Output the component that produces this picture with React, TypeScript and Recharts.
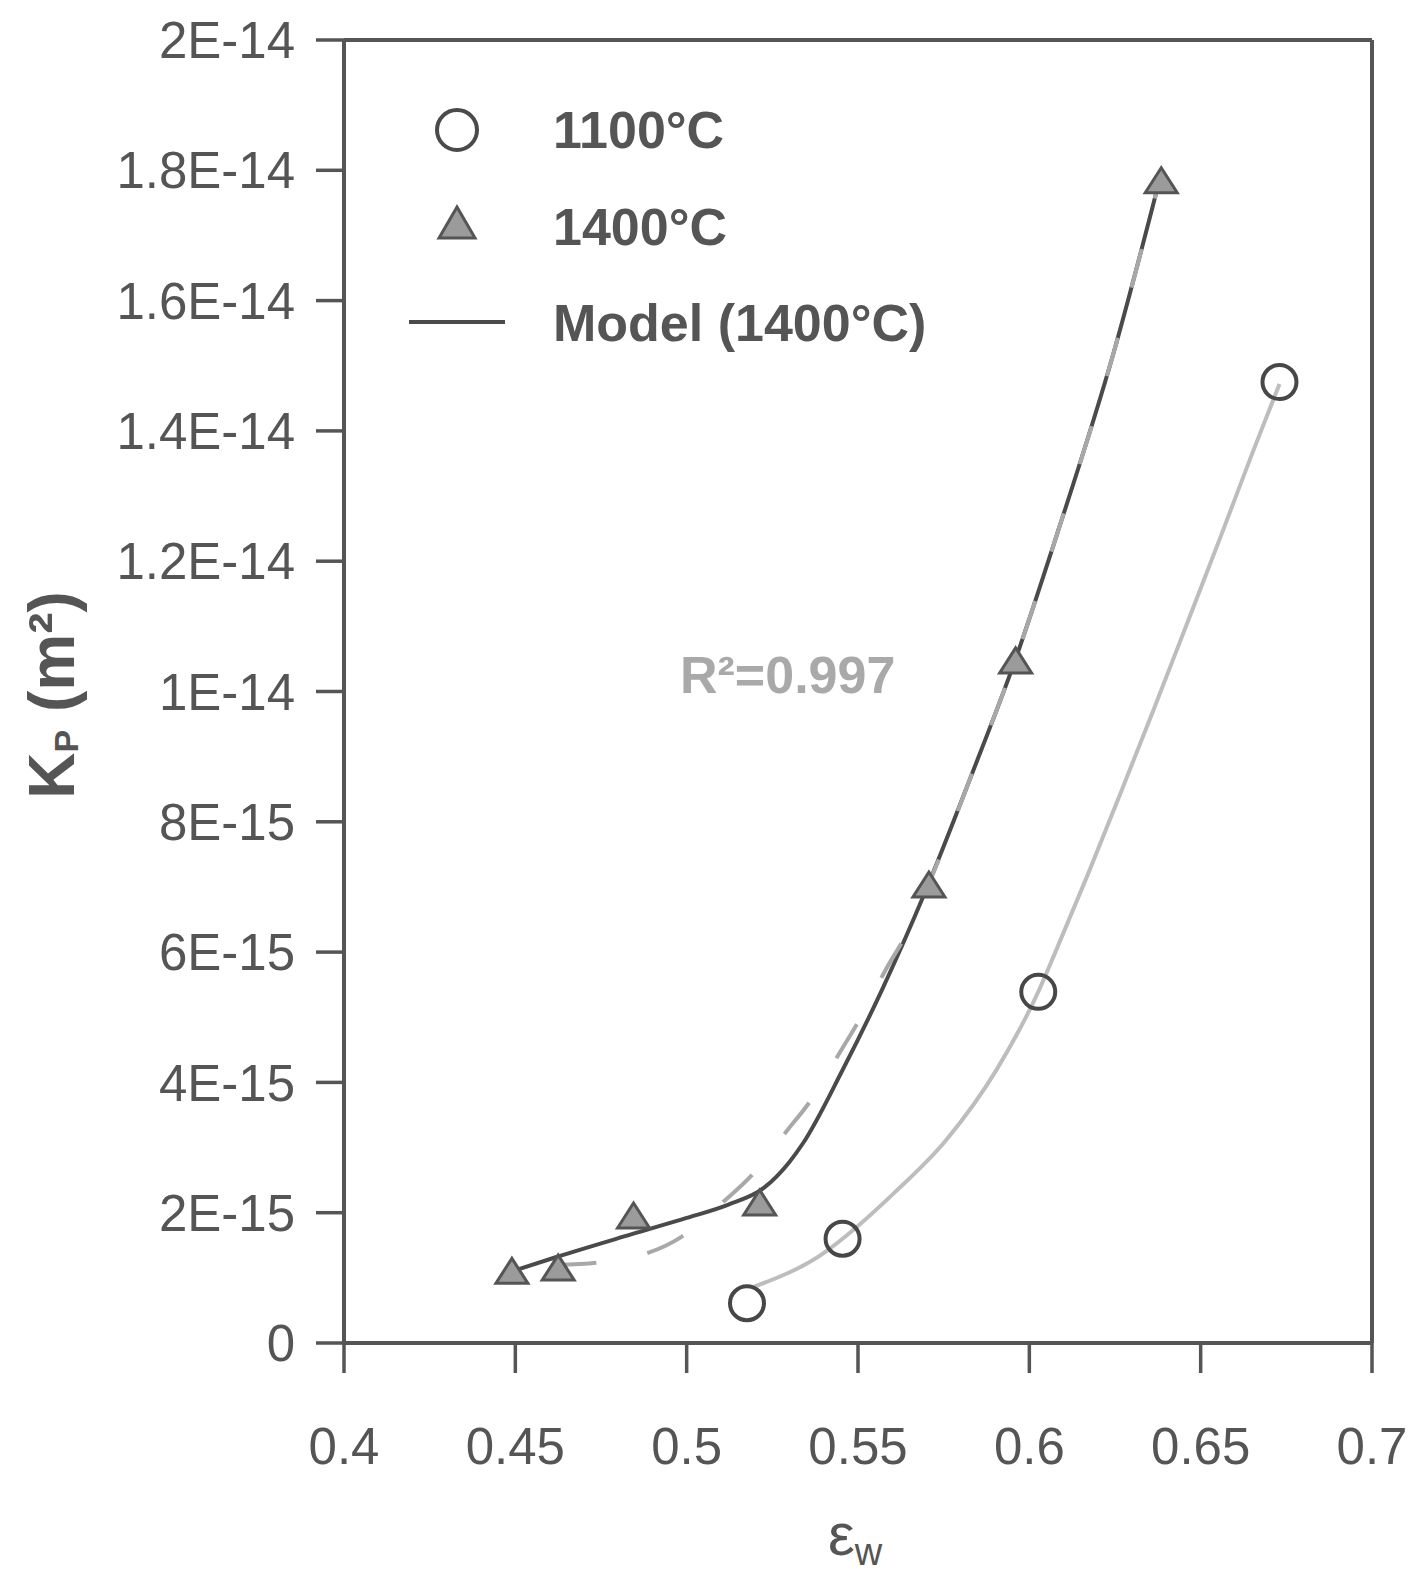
import React from 'react';
import { ComposedChart, XAxis, YAxis, Line, Scatter, ReferenceLine } from 'recharts';

// ---- axis ticks ----
const xTicks = [0.4, 0.45, 0.5, 0.55, 0.6, 0.65, 0.7];
const xTickLabels = ['0.4', '0.45', '0.5', '0.55', '0.6', '0.65', '0.7'];
const yTicks = [0, 2e-15, 4e-15, 6e-15, 8e-15, 1e-14, 1.2e-14, 1.4e-14, 1.6e-14, 1.8e-14, 2e-14];
const yTickLabels = ['0', '2E-15', '4E-15', '6E-15', '8E-15', '1E-14', '1.2E-14', '1.4E-14', '1.6E-14', '1.8E-14', '2E-14'];

// ---- measured points ----
const eps1400 = [0.449, 0.4625, 0.4845, 0.5213, 0.5707, 0.596, 0.6385];
const kp1400 = [1.1e-15, 1.15e-15, 1.95e-15, 2.15e-15, 7.03e-15, 10.47e-15, 17.84e-15];

const eps1100 = [0.5176, 0.5455, 0.6026, 0.673];
const kp1100 = [0.61e-15, 1.6e-15, 5.39e-15, 14.75e-15];

// ---- model (1400 C) curve ----
const modelEps = [0.449, 0.462, 0.484, 0.5, 0.512, 0.5225, 0.53, 0.534, 0.5455, 0.557, 0.5695, 0.583, 0.596, 0.608, 0.6246, 0.638];
const modelKp = [1.1e-15, 1.32e-15, 1.67e-15, 1.92e-15, 2.12e-15, 2.38e-15, 2.78e-15, 3.07e-15, 4.19e-15, 5.42e-15, 6.91e-15, 8.7e-15, 10.5e-15, 12.4e-15, 15.2e-15, 17.85e-15];

// ---- fit (dashed) curve ----
const fitEps = [0.462, 0.475, 0.4868, 0.4985, 0.5103, 0.5191, 0.5287, 0.5367, 0.5446, 0.5507, 0.5581, 0.5639, 0.5705, 0.583, 0.596, 0.608, 0.6246, 0.638];
const fitKp = [1.2e-15, 1.24e-15, 1.35e-15, 1.63e-15, 2.15e-15, 2.58e-15, 3.22e-15, 3.76e-15, 4.45e-15, 4.99e-15, 5.73e-15, 6.26e-15, 7.03e-15, 8.7e-15, 10.5e-15, 12.4e-15, 15.2e-15, 17.85e-15];

// ---- 1100 C curve ----
const c1100Eps = [0.519, 0.5405, 0.5455, 0.5605, 0.5755, 0.5905, 0.6026, 0.6076, 0.6173, 0.6267, 0.6364, 0.646, 0.656, 0.6648, 0.673];
const c1100Kp = [0.85e-15, 1.4e-15, 1.6e-15, 2.3e-15, 3.1e-15, 4.2e-15, 5.39e-15, 6.0e-15, 7.22e-15, 8.45e-15, 9.74e-15, 11.04e-15, 12.4e-15, 13.62e-15, 14.72e-15];

const zip = (xs: number[], ys: number[]) => xs.map((x, i) => ({ x, y: ys[i] }));

const pts1400 = zip(eps1400, kp1400);
const pts1100 = zip(eps1100, kp1100);
const modelLine = zip(modelEps, modelKp);
const fitLine = zip(fitEps, fitKp);
const line1100 = zip(c1100Eps, c1100Kp);

const FONT = "'Liberation Sans', Arial, Helvetica, sans-serif";
const AXIS = '#555555';

const TriangleShape = (props: any) => {
  const { cx, cy } = props;
  if (cx == null || cy == null) return null;
  return (
    <path
      d={`M${cx},${cy - 13} L${cx + 16},${cy + 12} L${cx - 16},${cy + 12} Z`}
      fill="#9b9b9b"
      stroke="#555"
      strokeWidth={3}
    />
  );
};

const CircleShape = (props: any) => {
  const { cx, cy } = props;
  if (cx == null || cy == null) return null;
  return <circle cx={cx} cy={cy} r={17} fill="none" stroke="#474747" strokeWidth={4} />;
};

export default function App() {
  return (
    <div style={{ position: 'absolute', left: 0, top: 0, width: 1425, height: 1572, background: '#fff', fontFamily: FONT }}>
      <ComposedChart width={1425} height={1572} margin={{ top: 40, right: 53, bottom: 79, left: 144 }}>
        <XAxis
          type="number"
          dataKey="x"
          domain={[0.4, 0.7]}
          ticks={xTicks}
          tickFormatter={(v: number, i: number) => xTickLabels[i]}
          height={150}
          tickSize={30}
          tickMargin={55}
          axisLine={{ stroke: AXIS, strokeWidth: 4 }}
          tickLine={{ stroke: AXIS, strokeWidth: 3.5 }}
          tick={{ fontSize: 51, fill: AXIS, fontFamily: FONT }}
          allowDataOverflow
          interval={0}
        />
        <YAxis
          type="number"
          dataKey="y"
          domain={[0, 2e-14]}
          ticks={yTicks}
          tickFormatter={(v: number, i: number) => yTickLabels[i]}
          width={200}
          tickSize={28}
          tickMargin={21}
          axisLine={{ stroke: AXIS, strokeWidth: 4 }}
          tickLine={{ stroke: AXIS, strokeWidth: 3.5 }}
          tick={{ fontSize: 51, fill: AXIS, fontFamily: FONT }}
          allowDataOverflow
          interval={0}
        />
        <ReferenceLine y={2e-14} stroke={AXIS} strokeWidth={4} />
        <ReferenceLine x={0.7} stroke={AXIS} strokeWidth={4} />
        <Scatter data={pts1400} shape={TriangleShape} isAnimationActive={false} />
        <Scatter data={pts1100} shape={CircleShape} isAnimationActive={false} />
        <Line data={line1100} dataKey="y" type="monotone" stroke="#bdbdbd" strokeWidth={4} dot={false} activeDot={false} isAnimationActive={false} />
        <Line data={modelLine} dataKey="y" type="monotone" stroke="#4a4a4a" strokeWidth={4} dot={false} activeDot={false} isAnimationActive={false} />
        <Line data={fitLine} dataKey="y" type="monotone" stroke="#a8a8a8" strokeWidth={4} strokeDasharray="40 52" dot={false} activeDot={false} isAnimationActive={false} />
      </ComposedChart>
      <svg width={1425} height={1572} style={{ position: 'absolute', left: 0, top: 0, pointerEvents: 'none' }} fontFamily={FONT}>
        {/* legend */}
        <circle cx={457} cy={130} r={20} fill="none" stroke="#4a4a4a" strokeWidth={4} />
        <path d="M457,207 L475,238 L439,238 Z" fill="#9b9b9b" stroke="#555" strokeWidth={3} />
        <line x1={409} y1={322} x2={505} y2={322} stroke="#4a4a4a" strokeWidth={4} />
        <text x={553} y={148} fontSize={52} fontWeight="bold" fill="#555">1100°C</text>
        <text x={553} y={245} fontSize={52} fontWeight="bold" fill="#555">1400°C</text>
        <text x={553} y={341} fontSize={52} fontWeight="bold" fill="#555">Model (1400°C)</text>
        {/* R2 annotation */}
        <text x={680} y={693} fontSize={52} fontWeight="bold" fill="#a9a9a9">R²=0.997</text>
        {/* y axis title */}
        <text x={74} y={695} transform="rotate(-90, 74, 695)" textAnchor="middle" fontSize={64} fontWeight="bold" fill="#555">
          K<tspan fontSize={34} dy={4}>P</tspan><tspan dy={-4}> (m²)</tspan>
        </text>
        {/* x axis title */}
        <text x={828} y={1555} fontSize={60} fill="#555">
          ε<tspan fontSize={38} dy={10}>w</tspan>
        </text>
      </svg>
    </div>
  );
}
